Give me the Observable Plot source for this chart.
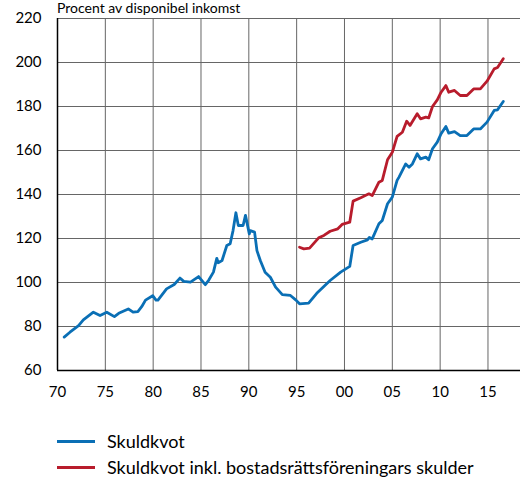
<!DOCTYPE html>
<html>
<head>
<meta charset="utf-8">
<script src="https://cdn.jsdelivr.net/npm/d3@7"></script>
<script src="https://cdn.jsdelivr.net/npm/@observablehq/plot@0.6"></script>
<style>
  body { margin: 0; background: #fff; font-family: Lato, "Open Sans", sans-serif; }
  #wrap { position: relative; width: 520px; height: 479px; overflow: hidden; }
  #title { position: absolute; left: 57px; top: 0px; font-size: 14px; line-height: 16px; color: #000; white-space: nowrap; z-index: 2; }
  #chart { position: absolute; left: 0; top: 0; }
  .leg { position: absolute; left: 57px; display: flex; align-items: center; font-size: 18px; line-height: 22px; color: #000; white-space: nowrap; }
  .leg span.sw { display: inline-block; width: 38px; height: 3px; margin-right: 12px; }
</style>
</head>
<body>
<div id="wrap">
  <div id="chart"></div>
  <div id="title">Procent av disponibel inkomst</div>
  <div class="leg" style="top:430px"><span class="sw" style="background:#0a6fb5"></span>Skuldkvot</div>
  <div class="leg" style="top:456px"><span class="sw" style="background:#b81c2c"></span>Skuldkvot inkl. bostadsrättsföreningars skulder</div>
</div>
<script>
const seriesNames = ["Skuldkvot", "Skuldkvot inkl. bostadsrättsföreningars skulder"];
const seriesColors = ["#0a6fb5", "#b81c2c"];

const blueYears = [1970.7, 1971.3, 1972.2, 1972.7, 1973.75, 1974.45, 1975.15, 1975.95, 1976.4, 1977.4, 1977.9, 1978.4, 1978.8, 1979.2, 1979.95, 1980.3, 1980.5, 1981.4, 1982.2, 1982.8, 1983.2, 1983.9, 1984.75, 1985.45, 1985.8, 1986.3, 1986.65, 1986.8, 1987.2, 1987.7, 1988.05, 1988.35, 1988.65, 1988.9, 1989.4, 1989.65, 1990.05, 1990.15, 1990.6, 1990.85, 1991.2, 1991.7, 1992.25, 1992.8, 1993.5, 1994.35, 1994.9, 1995.3, 1996.25, 1997.1, 1998.5, 1999.6, 2000.55, 2000.9, 2001.7, 2002.4, 2002.6, 2002.9, 2003.6, 2003.95, 2004.5, 2005.0, 2005.5, 2005.7, 2006.4, 2006.75, 2007.1, 2007.6, 2007.95, 2008.5, 2008.8, 2009.2, 2009.7, 2010.1, 2010.6, 2010.9, 2011.5, 2012.1, 2012.8, 2013.5, 2014.2, 2014.9, 2015.65, 2016.0, 2016.6];
const blueValues = [75.2, 77.4, 80.4, 83.0, 86.5, 85.0, 86.5, 84.5, 86.0, 88.0, 86.5, 86.8, 89.0, 92.0, 94.0, 92.0, 92.0, 97.1, 99.1, 102.0, 100.5, 100.2, 102.7, 99.0, 101.0, 104.7, 111.0, 109.0, 110.0, 116.8, 117.6, 123.6, 131.7, 125.9, 125.9, 130.5, 122.1, 123.6, 122.9, 114.5, 110.0, 104.7, 102.4, 97.9, 94.5, 94.1, 92.1, 90.3, 90.6, 95.1, 100.9, 104.7, 107.3, 116.8, 118.3, 119.4, 120.5, 119.8, 126.7, 128.2, 135.8, 138.8, 146.4, 147.9, 153.9, 152.4, 153.9, 158.5, 156.2, 157.0, 155.8, 160.8, 163.8, 167.6, 170.9, 167.9, 168.6, 166.8, 166.8, 169.8, 169.8, 172.9, 178.2, 178.5, 182.3];

const redYears = [1995.3, 1995.75, 1996.35, 1997.3, 1997.85, 1998.5, 1999.3, 1999.75, 2000.55, 2000.9, 2001.7, 2002.55, 2002.9, 2003.6, 2003.95, 2004.5, 2005.0, 2005.5, 2006.05, 2006.5, 2006.85, 2007.6, 2007.95, 2008.5, 2008.8, 2009.2, 2009.7, 2010.1, 2010.6, 2010.9, 2011.5, 2012.1, 2012.8, 2013.5, 2014.2, 2014.9, 2015.65, 2016.0, 2016.6];
const redValues = [116.0, 115.3, 115.6, 120.3, 121.4, 123.3, 124.4, 126.4, 127.4, 137.0, 138.5, 140.3, 139.5, 145.6, 146.4, 155.8, 159.2, 166.4, 168.3, 173.3, 171.4, 176.7, 174.4, 175.2, 174.8, 180.0, 183.0, 186.5, 189.5, 186.5, 187.3, 185.0, 185.0, 188.0, 188.0, 191.5, 197.1, 197.7, 201.7];

const xTicks = [1970, 1975, 1980, 1985, 1990, 1995, 2000, 2005, 2010, 2015];
const yTicks = [60, 80, 100, 120, 140, 160, 180, 200, 220];

const blue = blueYears.map((x, i) => ({x, y: blueValues[i]}));
const red = redYears.map((x, i) => ({x, y: redValues[i]}));

const chart = Plot.plot({
  width: 520,
  height: 400,
  marginLeft: 57,
  marginRight: 0,
  marginTop: 18,
  marginBottom: 30,
  style: {fontFamily: "Lato, 'Open Sans', sans-serif", fontSize: "15px", color: "#000", background: "#fff"},
  x: {domain: [1970, 2018.4]},
  y: {domain: [60, 220]},
  marks: [
    Plot.ruleX(xTicks.slice(1), {stroke: "#666", strokeWidth: 1}),
    Plot.ruleY(yTicks.slice(1), {stroke: "#666", strokeWidth: 1}),
    Plot.ruleY([60], {stroke: "#000", strokeWidth: 1.5}),
    Plot.ruleX([1970], {stroke: "#000", strokeWidth: 1.5}),
    Plot.line(blue, {x: "x", y: "y", stroke: seriesColors[0], strokeWidth: 2.8, curve: "linear"}),
    Plot.line(red, {x: "x", y: "y", stroke: seriesColors[1], strokeWidth: 2.8, curve: "linear"}),
    Plot.axisX(xTicks, {tickSize: 0, tickPadding: 16, label: null, tickFormat: d => String(d % 100).padStart(2, "0"), fontSize: 15}),
    Plot.axisY(yTicks, {tickSize: 0, tickPadding: 16, label: null, fontSize: 15})
  ]
});
document.getElementById("chart").appendChild(chart);
</script>
</body>
</html>
